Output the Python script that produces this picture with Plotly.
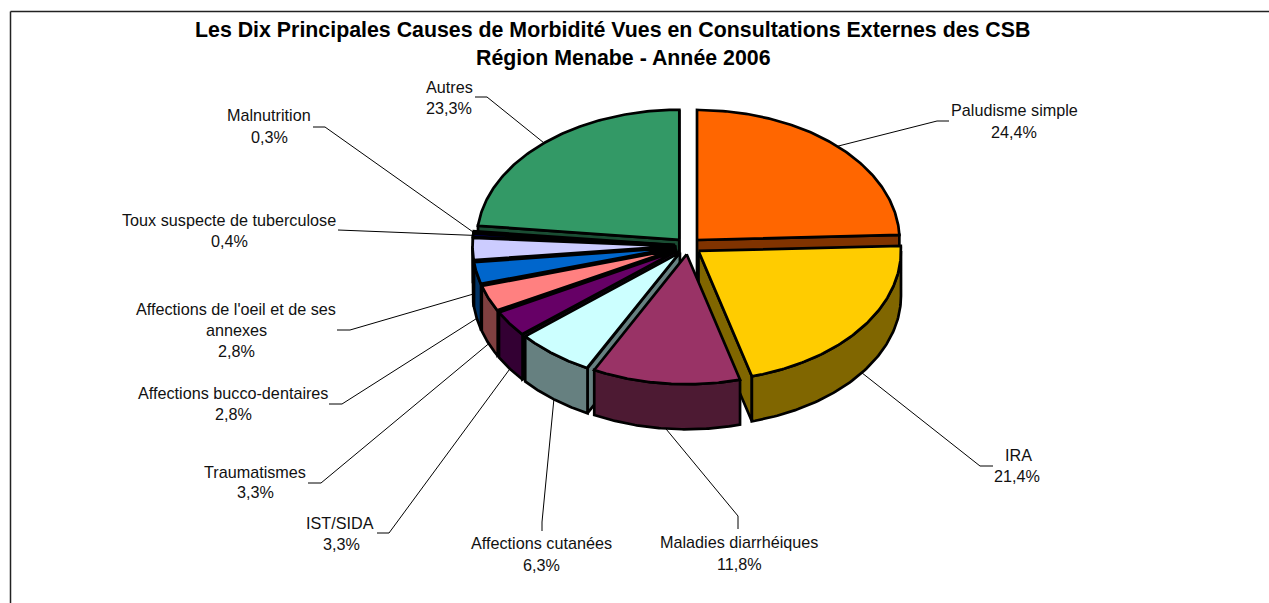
import numpy as np
import plotly.graph_objects as go

# ---- data ----
categories = ["Paludisme simple", "IRA", "Maladies diarrhéiques", "Affections cutanées",
              "IST/SIDA", "Traumatismes", "Affections bucco-dentaires",
              "Affections de l'oeil et de ses annexes", "Toux suspecte de tuberculose",
              "Malnutrition", "Autres"]
values = [24.4, 21.4, 11.8, 6.3, 3.3, 3.3, 2.8, 2.8, 0.4, 0.3, 23.3]
top_colors = ["#FF6600", "#FFCC00", "#993366", "#CCFFFF", "#660066", "#FF8080",
              "#0066CC", "#CCCCFF", "#000080", "#FF00FF", "#339966"]
side_colors = ["#803300", "#806600", "#4D1A33", "#668080", "#330033", "#804040",
               "#003366", "#666680", "#000040", "#800080", "#1A4D33"]
title_lines = ["Les Dix Principales Causes de Morbidité Vues en Consultations Externes des CSB",
               "Région Menabe - Année 2006"]

# ---- layout constants (pixels of the page) ----
W, H = 1269, 603
CX, CY, RX, RY = 688.0, 246.0, 202.5, 130.0
EXPLODE = 13.0 / 202.5
DEPTH = 45.0
EDGE = 2.7
LABEL_SIZE = 16.2
TITLE_SIZE = 21.35
# label line centres and elbow + end of each leader, by category position
label_lines = [
    [("Paludisme simple", 1014, 110), ("24,4%", 1014, 132)],
    [("IRA", 1018, 455), ("21,4%", 1017, 476)],
    [("Maladies diarrhéiques", 739, 542), ("11,8%", 739, 564)],
    [("Affections cutanées", 541, 543), ("6,3%", 541, 565)],
    [("IST/SIDA", 340, 523), ("3,3%", 341, 544)],
    [("Traumatismes", 255, 472), ("3,3%", 255, 492)],
    [("Affections bucco-dentaires", 233, 393), ("2,8%", 233, 414)],
    [("Affections de l'oeil et de ses", 236, 309), ("annexes", 236, 330), ("2,8%", 236, 351)],
    [("Toux suspecte de tuberculose", 229, 220), ("0,4%", 229, 241)],
    [("Malnutrition", 269, 115), ("0,3%", 269, 137)],
    [("Autres", 449, 87), ("23,3%", 449, 108)],
]
leader_tails = [
    [(937, 121), (949, 121)], [(980, 466), (993, 466)], [(738, 516), (738, 529)],
    [(542, 522), (542, 531)], [(389, 533), (377, 533)], [(321, 483), (308, 483)],
    [(342, 404), (329, 404)], [(350, 330), (337, 330)], [(350, 230), (338, 230)],
    [(325, 127), (313, 127)], [(487, 97), (475, 97)],
]

# ---- geometry derived from the values ----
fractions = np.array(values) / sum(values)
ends = np.cumsum(fractions) * 360.0
starts = ends - fractions * 360.0
mids = (starts + ends) / 2


def ell(cx, cy, deg):
    t = np.radians(deg)
    return cx + RX * np.sin(t), cy - RY * np.cos(t)


def apex(mid):
    t = np.radians(mid)
    return CX + RX * EXPLODE * np.sin(t), CY - RY * EXPLODE * np.cos(t)


def poly(fig, xs, ys, color):
    xs, ys = list(xs), list(ys)
    fig.add_trace(go.Scatter(x=xs + xs[:1], y=ys + ys[:1], mode="lines", fill="toself",
                             fillcolor=color, line=dict(color="black", width=EDGE),
                             hoverinfo="skip", showlegend=False))


fig = go.Figure()

# leaders, under the pie
for i, tail in enumerate(leader_tails):
    ax, ay = apex(mids[i])
    x0, y0 = ell(ax, ay, mids[i])
    if np.cos(np.radians(mids[i])) < 0:
        y0 += DEPTH
    fig.add_trace(go.Scatter(x=[x0] + [p[0] for p in tail], y=[y0] + [p[1] for p in tail],
                             mode="lines", line=dict(color="black", width=1),
                             hoverinfo="skip", showlegend=False))

# painter's order: back-left slices from Autres down to Affections cutanées, then the right side
order = [10, 9, 8, 7, 6, 5, 4, 3, 0, 1, 2]
for i in order:
    a1, a2 = starts[i], ends[i]
    ax, ay = apex(mids[i])
    # cut faces
    if np.sin(np.radians(a1)) < 0:
        rx_, ry_ = ell(ax, ay, a1)
        poly(fig, [ax, rx_, rx_, ax], [ay, ry_, ry_ + DEPTH, ay + DEPTH], side_colors[i])
    if np.sin(np.radians(a2)) > 0:
        rx_, ry_ = ell(ax, ay, a2)
        poly(fig, [ax, rx_, rx_, ax], [ay, ry_, ry_ + DEPTH, ay + DEPTH], side_colors[i])
    # outer wall (only the half facing the viewer)
    w1, w2 = max(a1, 90.0), min(a2, 270.0)
    if w2 > w1:
        arc = np.linspace(w1, w2, 80)
        ex, ey = ell(ax, ay, arc)
        poly(fig, np.r_[ex, ex[::-1]], np.r_[ey, ey[::-1] + DEPTH], side_colors[i])
    # top face
    arc = np.linspace(a1, a2, 120)
    ex, ey = ell(ax, ay, arc)
    poly(fig, np.r_[ax, ex], np.r_[ay, ey], top_colors[i])

annotations = []
for lines in label_lines:
    for text, x, y in lines:
        annotations.append(dict(x=x, y=y, xref="x", yref="y", text=text, showarrow=False,
                                xanchor="center", yanchor="middle",
                                font=dict(family="Liberation Sans", size=LABEL_SIZE, color="#111111")))
for text, x, y in zip(title_lines, [612, 623.5], [30, 58]):
    annotations.append(dict(x=x, y=y, xref="x", yref="y", text=f"<b>{text}</b>", showarrow=False,
                            xanchor="center", yanchor="middle",
                            font=dict(family="Liberation Sans", size=TITLE_SIZE, color="black")))

fig.update_layout(
    width=W, height=H, margin=dict(l=0, r=0, t=0, b=0),
    paper_bgcolor="white", plot_bgcolor="white", showlegend=False,
    xaxis=dict(range=[0, W], visible=False, fixedrange=True),
    yaxis=dict(range=[H, 0], visible=False, fixedrange=True),
    annotations=annotations,
    shapes=[dict(type="line", xref="x", yref="y", x0=10.5, x1=W, y0=11.5, y1=11.5,
                 line=dict(color="#222222", width=1.5)),
            dict(type="line", xref="x", yref="y", x0=10.5, x1=10.5, y0=11.5, y1=H,
                 line=dict(color="#222222", width=1.5))],
)
fig.write_html("out.html", config={"displayModeBar": False},
               post_script="document.body.style.margin='0';document.body.style.overflow='hidden';")
